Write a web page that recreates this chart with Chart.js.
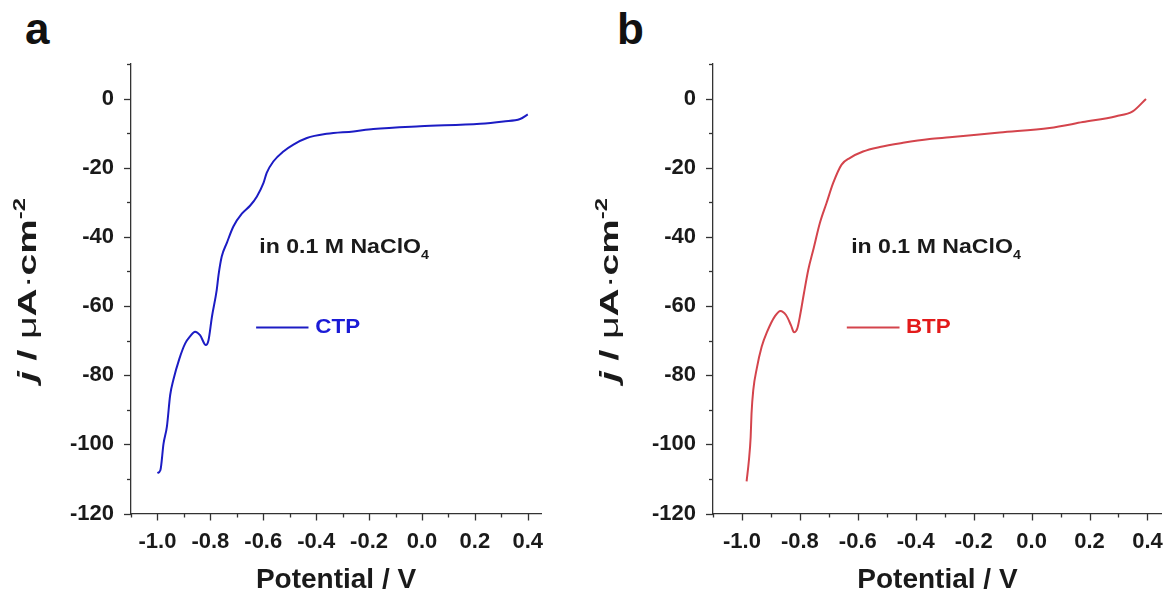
<!DOCTYPE html>
<html>
<head>
<meta charset="utf-8">
<script src="https://cdn.jsdelivr.net/npm/chart.js@4.4.1/dist/chart.umd.min.js"></script>
<style>
body { margin: 0; background: #fff; width: 1171px; height: 594px; overflow: hidden; position: relative; font-family: "Liberation Sans", Arial, sans-serif; }
.panel { position: absolute; top: 0; }
.tag { position: absolute; top: 7px; font-weight: bold; font-size: 44px; line-height: 44px; color: #111; }
</style>
</head>
<body>
<div class="tag" style="left:25px">a</div>
<div class="tag" style="left:617px">b</div>
<canvas id="chartA" class="panel" width="580" height="594" style="left:0"></canvas>
<canvas id="chartB" class="panel" width="589" height="594" style="left:582px"></canvas>
<script>
// CTP (panel a)
const ctpPotential = [-1.0, -0.989, -0.977, -0.964, -0.952, -0.94, -0.917, -0.895, -0.876, -0.858, -0.839, -0.817, -0.807, -0.794, -0.776, -0.769, -0.757, -0.738, -0.713, -0.681, -0.65, -0.624, -0.599, -0.587, -0.562, -0.524, -0.486, -0.435, -0.36, -0.259, -0.184, -0.007, 0.22, 0.308, 0.371, 0.4];
const ctpCurrent = [-108.3, -107.5, -99.8, -94.7, -85.8, -81.4, -75.2, -70.8, -68.7, -67.4, -68.4, -71.3, -69.9, -63.1, -55.4, -51.0, -45.7, -41.8, -37.0, -33.3, -31.0, -28.3, -24.4, -21.5, -18.2, -15.3, -13.3, -11.4, -10.2, -9.5, -8.8, -8.0, -7.3, -6.6, -5.9, -4.6];

// BTP (panel b)
const btpPotential = [-0.984, -0.976, -0.97, -0.967, -0.961, -0.949, -0.932, -0.913, -0.886, -0.867, -0.848, -0.831, -0.82, -0.809, -0.798, -0.786, -0.771, -0.754, -0.731, -0.708, -0.685, -0.656, -0.628, -0.582, -0.524, -0.444, -0.352, -0.283, -0.11, 0.062, 0.177, 0.292, 0.349, 0.395];
const btpCurrent = [-110.7, -104.6, -97.9, -91.1, -84.3, -78.1, -71.8, -67.4, -62.9, -61.4, -62.6, -65.5, -67.6, -66.5, -62.1, -56.3, -49.5, -43.8, -36.0, -30.2, -24.4, -19.1, -17.2, -15.3, -14.0, -12.8, -11.7, -11.2, -9.8, -8.5, -6.8, -5.1, -3.7, -0.1];

// axis ticks (all ticks, and the ones that carry a label)
const xTicks = [-1.1, -1.0, -0.9, -0.8, -0.7, -0.6, -0.5, -0.4, -0.3, -0.2, -0.1, 0.0, 0.1, 0.2, 0.3, 0.4];
const xLabels = [-1.0, -0.8, -0.6, -0.4, -0.2, 0.0, 0.2, 0.4];
const yTicks = [-120, -110, -100, -90, -80, -70, -60, -50, -40, -30, -20, -10, 0, 10];
const yLabels = [-120, -100, -80, -60, -40, -20, 0];

const FONT = '"Liberation Sans", Arial, sans-serif';

function hasValue(arr, v) {
    return arr.some(a => Math.abs(a - v) < 1e-6);
}

function partsWidth(ctx, parts) {
    let w = 0;
    parts.forEach(p => { ctx.font = p.font; w += ctx.measureText(p.text).width; });
    return w;
}

function drawParts(ctx, parts, x, y) {
    parts.forEach(p => {
        ctx.font = p.font;
        ctx.fillText(p.text, x, y + (p.dy || 0));
        x += ctx.measureText(p.text).width;
    });
}

const yTitleParts = [
    {text: 'j', font: 'italic bold 26px ' + FONT},
    {text: ' / ', font: 'bold 26px ' + FONT},
    {text: 'μ', font: '26px ' + FONT},
    {text: 'A', font: 'bold 26px ' + FONT},
    {text: '·', font: '26px ' + FONT},
    {text: 'cm', font: 'bold 26px ' + FONT},
    {text: '-2', font: 'bold 16px ' + FONT, dy: -11}
];

const noteParts = [
    {text: 'in 0.1 M NaClO', font: 'bold 21px ' + FONT},
    {text: '4', font: 'bold 13px ' + FONT, dy: 6}
];

// ticks, y title, note and legend drawn on top of the chart
const decorPlugin = {
    id: 'decor',
    afterDraw(chart, args, opts) {
        const ctx = chart.ctx;
        const xs = chart.scales.x;
        const ys = chart.scales.y;
        const area = chart.chartArea;
        ctx.save();

        ctx.strokeStyle = '#333';
        ctx.lineWidth = 1.3;
        xs.ticks.forEach(t => {
            const len = hasValue(xLabels, t.value) ? 7 : 4;
            const px = Math.round(xs.getPixelForValue(t.value)) + 0.5;
            ctx.beginPath();
            ctx.moveTo(px, area.bottom);
            ctx.lineTo(px, area.bottom + len);
            ctx.stroke();
        });
        ys.ticks.forEach(t => {
            const len = hasValue(yLabels, t.value) ? 7 : 4;
            const py = Math.round(ys.getPixelForValue(t.value)) + 0.5;
            ctx.beginPath();
            ctx.moveTo(area.left, py);
            ctx.lineTo(area.left - len, py);
            ctx.stroke();
        });

        // y axis title, rotated and stretched along its length
        ctx.fillStyle = '#1a1a1a';
        ctx.textBaseline = 'alphabetic';
        ctx.save();
        ctx.translate(area.left - 105, 290);
        ctx.rotate(-Math.PI / 2);
        const w = partsWidth(ctx, yTitleParts);
        ctx.scale(184 / w, 1);
        drawParts(ctx, yTitleParts, -w / 2, 10);
        ctx.restore();

        // electrolyte note
        ctx.save();
        ctx.translate(xs.getPixelForValue(opts.noteX), ys.getPixelForValue(opts.noteY));
        ctx.scale(1.1, 1);
        drawParts(ctx, noteParts, 0, 0);
        ctx.restore();

        // legend
        const ly = ys.getPixelForValue(opts.legendY);
        ctx.strokeStyle = opts.color;
        ctx.lineWidth = 2;
        ctx.beginPath();
        ctx.moveTo(xs.getPixelForValue(opts.legendX0), ly);
        ctx.lineTo(xs.getPixelForValue(opts.legendX1), ly);
        ctx.stroke();
        ctx.save();
        ctx.translate(xs.getPixelForValue(opts.legendTextX), ly + 6);
        ctx.scale(1.12, 1);
        ctx.fillStyle = opts.textColor;
        ctx.font = 'bold 20px ' + FONT;
        ctx.fillText(opts.label, 0, 0);
        ctx.restore();

        ctx.restore();
    }
};

function makeChart(id, potential, current, lineColor, decor, padRight) {
    return new Chart(document.getElementById(id), {
        type: 'line',
        data: {
            datasets: [{
                data: potential.map((v, i) => ({x: v, y: current[i]})),
                borderColor: lineColor,
                borderWidth: 2,
                pointRadius: 0,
                cubicInterpolationMode: 'monotone'
            }]
        },
        options: {
            responsive: false,
            animation: false,
            layout: {padding: {top: 64, right: padRight, left: 0, bottom: 0}},
            plugins: {
                legend: {display: false},
                tooltip: {enabled: false},
                decor: decor
            },
            scales: {
                x: {
                    type: 'linear',
                    min: -1.1,
                    max: 0.45,
                    afterBuildTicks: s => { s.ticks = xTicks.map(v => ({value: v})); },
                    afterFit: s => { s.height = 80.5; },
                    grid: {drawOnChartArea: false, drawTicks: true, tickLength: 7, color: 'rgba(0,0,0,0)'},
                    border: {color: '#333', width: 1.3},
                    ticks: {
                        autoSkip: false,
                        maxRotation: 0,
                        padding: 8,
                        color: '#1a1a1a',
                        font: {family: FONT, size: 22, weight: 'bold'},
                        callback: v => hasValue(xLabels, v) ? v.toFixed(1) : ''
                    },
                    title: {
                        display: true,
                        text: 'Potential / V',
                        color: '#1a1a1a',
                        font: {family: FONT, size: 28, weight: 'bold', lineHeight: 1},
                        padding: 0
                    }
                },
                y: {
                    type: 'linear',
                    min: -120,
                    max: 10,
                    afterBuildTicks: s => { s.ticks = yTicks.map(v => ({value: v})); },
                    afterFit: s => { s.width = 131; },
                    grid: {drawOnChartArea: false, drawTicks: true, tickLength: 7, color: 'rgba(0,0,0,0)'},
                    border: {color: '#333', width: 1.3},
                    ticks: {
                        autoSkip: false,
                        padding: 10,
                        color: '#1a1a1a',
                        font: {family: FONT, size: 22, weight: 'bold'},
                        callback: v => hasValue(yLabels, v) ? String(v) : ''
                    }
                }
            }
        },
        plugins: [decorPlugin]
    });
}

makeChart('chartA', ctpPotential, ctpCurrent, '#1c1cc4', {
    noteX: -0.615, noteY: -44.7,
    legendX0: -0.627, legendX1: -0.429, legendY: -66.2, legendTextX: -0.403,
    label: 'CTP', color: '#1c1cc4', textColor: '#1a1ad6'
}, 39);

makeChart('chartB', btpPotential, btpCurrent, '#d4444c', {
    noteX: -0.623, noteY: -44.7,
    legendX0: -0.638, legendX1: -0.456, legendY: -66.2, legendTextX: -0.434,
    label: 'BTP', color: '#d4444c', textColor: '#e31a1a'
}, 8);
</script>
</body>
</html>
